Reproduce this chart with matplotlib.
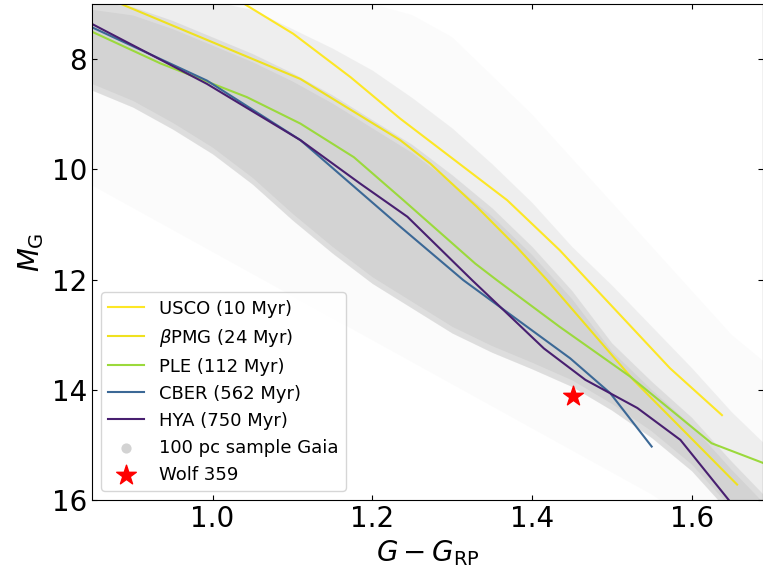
import numpy as np
import matplotlib
matplotlib.use("Agg")
import matplotlib.pyplot as plt

# isochrones: colour G-G_RP vs absolute magnitude M_G
usco_c = [1.041, 1.101, 1.173, 1.235, 1.369, 1.435, 1.469, 1.573, 1.638]
usco_m = [7.01, 7.54, 8.33, 9.08, 10.56, 11.47, 12.00, 13.61, 14.46]

bpmg_c = [0.887, 1.110, 1.235, 1.273, 1.331, 1.381, 1.419, 1.527, 1.657]
bpmg_m = [7.01, 8.36, 9.47, 9.90, 10.68, 11.41, 12.01, 13.82, 15.72]

ple_c = [0.850, 0.935, 1.043, 1.110, 1.177, 1.239, 1.329, 1.356, 1.435, 1.523, 1.625, 1.690]
ple_m = [7.51, 8.08, 8.69, 9.17, 9.78, 10.56, 11.71, 12.01, 12.86, 13.76, 14.97, 15.33]

cber_c = [0.850, 0.993, 1.110, 1.235, 1.314, 1.448, 1.498, 1.550]
cber_m = [7.43, 8.39, 9.47, 11.04, 12.01, 13.43, 14.06, 15.03]

hya_c = [0.850, 0.993, 1.110, 1.185, 1.244, 1.325, 1.415, 1.467, 1.532, 1.586, 1.646, 1.660]
hya_m = [7.37, 8.45, 9.47, 10.26, 10.86, 12.01, 13.25, 13.82, 14.33, 14.91, 15.99, 16.25]

# outline of the Gaia 100 pc sequence: dense core, looser upper side, sparse halo
band_c = [0.85, 0.90, 0.95, 1.00, 1.05, 1.10, 1.15, 1.20, 1.25, 1.30,
          1.35, 1.40, 1.45, 1.50, 1.55, 1.60, 1.65, 1.70]
core_top = [7.10, 7.20, 7.45, 7.75, 8.05, 8.40, 8.80, 9.25, 9.70, 10.25,
            10.85, 11.55, 12.35, 13.30, 14.00, 14.65, 15.45, 16.20]
core_bot = [8.45, 8.75, 9.15, 9.60, 10.15, 10.80, 11.40, 11.95, 12.40, 12.85,
            13.20, 13.50, 13.82, 14.25, 14.75, 15.35, 16.15, 16.90]
mid_top = [6.90, 6.90, 6.90, 6.95, 7.10, 7.45, 7.80, 8.20, 8.70, 9.25,
           9.90, 10.60, 11.40, 12.10, 12.85, 13.60, 14.40, 15.10]
halo_top = [6.90, 6.90, 6.90, 6.90, 6.90, 6.90, 6.90, 7.00, 7.20, 7.60,
            8.30, 9.00, 9.80, 10.60, 11.40, 12.20, 13.00, 13.60]
halo_bot = [10.30, 10.70, 11.10, 11.50, 11.90, 12.30, 12.70, 13.10, 13.50, 13.90,
            14.30, 14.70, 15.10, 15.50, 15.90, 16.40, 16.90, 17.30]

wolf_c, wolf_m = 1.452, 14.12

labels = ["USCO (10 Myr)", r"$\beta$PMG (24 Myr)", "PLE (112 Myr)",
          "CBER (562 Myr)", "HYA (750 Myr)"]
colors = ["#fde725", "#efe11f", "#9bd93c", "#3b6896", "#481f70"]

fig = plt.figure(figsize=(7.63, 5.70), dpi=100)
ax = fig.add_axes([0.1206, 0.1228, 0.8800, 0.8702])

core_soft_top = np.array(core_top) - 0.15
core_soft_bot = np.array(core_bot) + 0.12
ax.fill_between(band_c, halo_top, halo_bot, color="lightgray", alpha=0.08, lw=0)
ax.fill_between(band_c, mid_top, core_soft_bot, color="lightgray", alpha=0.3, lw=0)
ax.fill_between(band_c, core_soft_top, core_soft_bot, color="lightgray", alpha=0.6, lw=0)
ax.fill_between(band_c, core_top, core_bot, color="lightgray", lw=0)

iso = [(usco_c, usco_m), (bpmg_c, bpmg_m), (ple_c, ple_m),
       (cber_c, cber_m), (hya_c, hya_m)]
handles = []
for (c, m), lab, col in zip(iso, labels, colors):
    h, = ax.plot(c, m, color=col, lw=1.5, label=lab)
    handles.append(h)

gaia = ax.scatter([], [], s=40, color="lightgray", label="100 pc sample Gaia")
star = ax.scatter([wolf_c], [wolf_m], marker="*", s=220, color="red",
                  zorder=5, label="Wolf 359")
handles += [gaia, star]

ax.set_xlim(0.849, 1.690)
ax.set_ylim(16, 7)
ax.set_xticks([1.0, 1.2, 1.4, 1.6])
ax.set_yticks([8, 10, 12, 14, 16])
ax.tick_params(direction="in", top=True, right=True, labelsize=20)
ax.set_xlabel(r"$G-G_{\rm RP}$", fontsize=20)
ax.set_ylabel(r"$M_{\rm G}$", fontsize=20)

ax.legend(handles=handles, loc="lower left", fontsize=13)

fig.savefig("out.png", dpi=100)
